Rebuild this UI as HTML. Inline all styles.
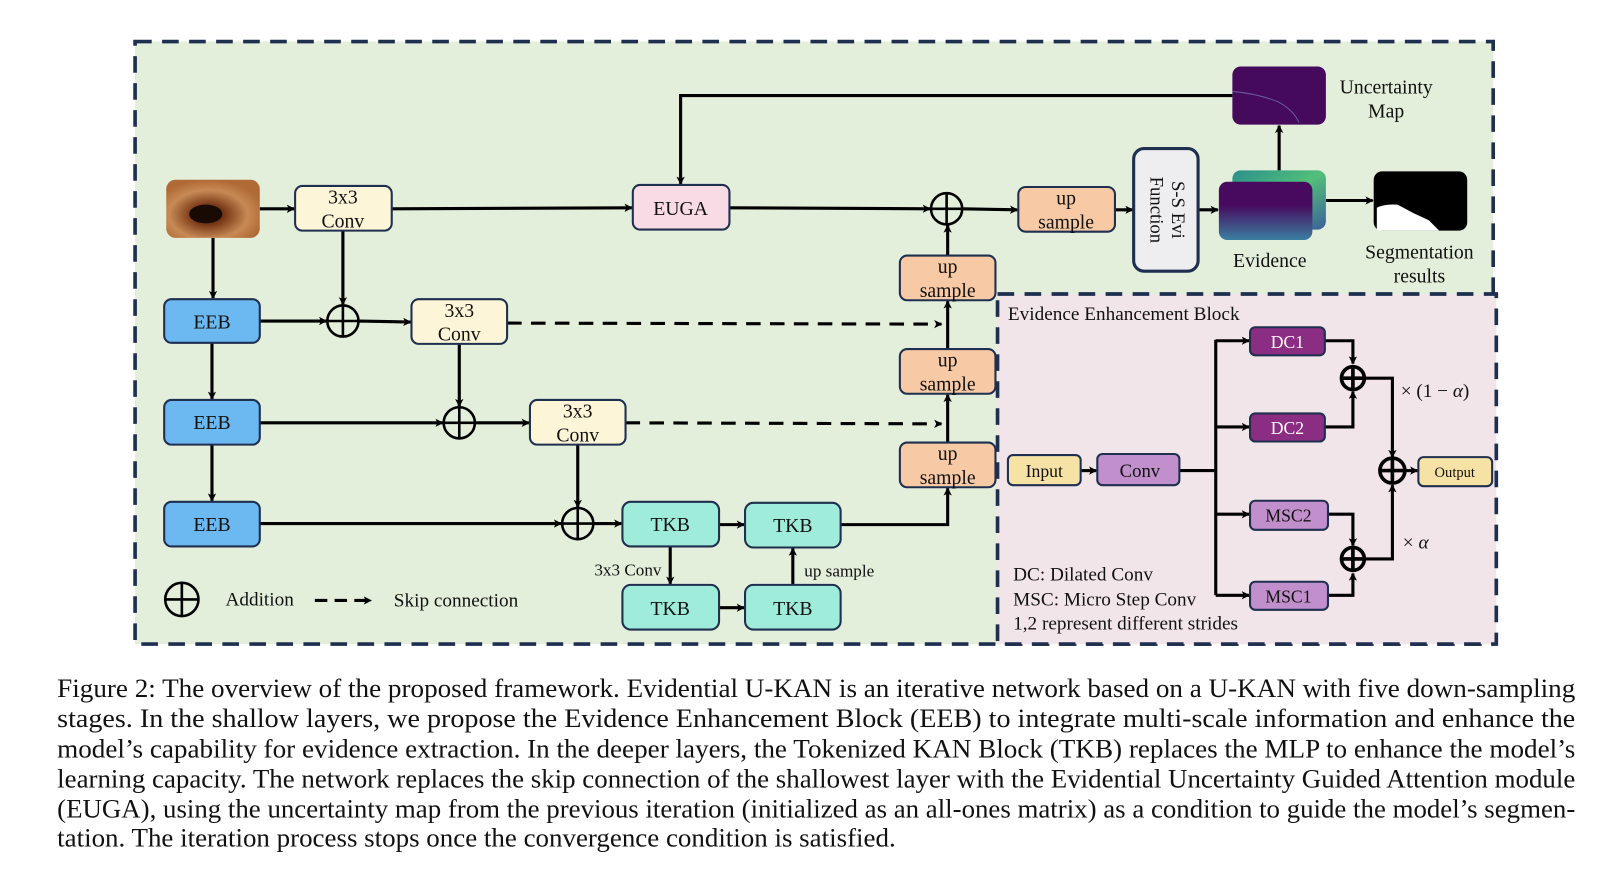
<!DOCTYPE html>
<html><head><meta charset="utf-8"><style>
html,body{margin:0;padding:0;background:#fff;width:1621px;height:882px;overflow:hidden}
svg{display:block}
text{font-family:"Liberation Serif",serif;fill:#111}
</style></head><body>
<svg width="1621" height="882" viewBox="0 0 1560 849" preserveAspectRatio="none" xmlns="http://www.w3.org/2000/svg">
<defs>
<marker id="a" markerWidth="8" markerHeight="8" refX="7" refY="4" orient="auto" markerUnits="userSpaceOnUse" viewBox="0 0 8 8"><path d="M0,0 L8,4 L0,8 L2,4 Z" fill="#000"/></marker>
<linearGradient id="ev" x1="0" y1="0" x2="1" y2="1"><stop offset="0" stop-color="#2a8f8a"/><stop offset="0.5" stop-color="#52c07a"/><stop offset="1" stop-color="#3a5f9a"/></linearGradient>
<linearGradient id="ev2" x1="0" y1="0" x2="0" y2="1"><stop offset="0.4" stop-color="#470a5e"/><stop offset="1" stop-color="#3b7fa0"/></linearGradient>
<radialGradient id="img" cx="0.45" cy="0.6" r="0.6"><stop offset="0" stop-color="#2a1208"/><stop offset="0.3" stop-color="#7a3a18"/><stop offset="0.7" stop-color="#c88a55"/><stop offset="1" stop-color="#b06a35"/></radialGradient>
</defs>
<rect x="130" y="40" width="1307" height="580" fill="#e3eedb" stroke="#1f2f4f" stroke-width="3.5" stroke-dasharray="16,10"/>
<rect x="960" y="283" width="480" height="337" fill="#f2e5ea" stroke="#1f2f4f" stroke-width="3.5" stroke-dasharray="16,10"/>

<g stroke="#000" stroke-width="3" fill="none">
<line x1="250" y1="201" x2="283" y2="201" marker-end="url(#a)"/>
<line x1="377" y1="201" x2="608" y2="200" marker-end="url(#a)"/>
<line x1="702" y1="200" x2="895" y2="201" marker-end="url(#a)"/>
<line x1="926" y1="201" x2="979" y2="202" marker-end="url(#a)"/>
<line x1="1073" y1="202" x2="1090" y2="202" marker-end="url(#a)"/>
<line x1="1153" y1="202" x2="1172" y2="202" marker-end="url(#a)"/>
<line x1="1276" y1="193" x2="1321" y2="193" marker-end="url(#a)"/>
<line x1="1231" y1="164" x2="1231" y2="121" marker-end="url(#a)"/>
<polyline points="1186,92 655,92 655,177" marker-end="url(#a)"/>
<line x1="205" y1="229" x2="205" y2="287" marker-end="url(#a)"/>
<line x1="204" y1="330" x2="204" y2="384" marker-end="url(#a)"/>
<line x1="204" y1="428" x2="204" y2="482" marker-end="url(#a)"/>
<line x1="330" y1="222" x2="330" y2="293" marker-end="url(#a)"/>
<line x1="250" y1="309" x2="314" y2="309" marker-end="url(#a)"/>
<line x1="345" y1="309" x2="395" y2="310" marker-end="url(#a)"/>
<line x1="442" y1="331" x2="442" y2="391" marker-end="url(#a)"/>
<line x1="250" y1="407" x2="426" y2="407" marker-end="url(#a)"/>
<line x1="457" y1="407" x2="509" y2="407" marker-end="url(#a)"/>
<line x1="556" y1="428" x2="556" y2="488" marker-end="url(#a)"/>
<line x1="250" y1="504" x2="540" y2="504" marker-end="url(#a)"/>
<line x1="571" y1="504" x2="598" y2="504" marker-end="url(#a)"/>
<line x1="692" y1="505" x2="716" y2="505" marker-end="url(#a)"/>
<line x1="645" y1="526" x2="645" y2="562" marker-end="url(#a)"/>
<line x1="692" y1="585" x2="716" y2="585" marker-end="url(#a)"/>
<line x1="763" y1="563" x2="763" y2="528" marker-end="url(#a)"/>
<polyline points="809,505 912,505 912,470" marker-end="url(#a)"/>
<line x1="912" y1="426" x2="912" y2="380" marker-end="url(#a)"/>
<line x1="912" y1="336" x2="912" y2="290" marker-end="url(#a)"/>
<line x1="912" y1="246" x2="912" y2="217" marker-end="url(#a)"/>
<line x1="488" y1="311" x2="906" y2="312" stroke-dasharray="14,9" marker-end="url(#a)"/>
<line x1="602" y1="407" x2="906" y2="408" stroke-dasharray="14,9" marker-end="url(#a)"/>
<line x1="303" y1="578" x2="357" y2="578" stroke-dasharray="12,7" marker-end="url(#a)"/>
<line x1="1040" y1="453" x2="1055" y2="453" marker-end="url(#a)"/>
<polyline points="1135,453 1170,453"/>
<line x1="1170" y1="327" x2="1170" y2="573"/>
<line x1="1170" y1="328" x2="1202" y2="328" marker-end="url(#a)"/>
<line x1="1170" y1="411" x2="1202" y2="411" marker-end="url(#a)"/>
<line x1="1170" y1="495" x2="1202" y2="495" marker-end="url(#a)"/>
<line x1="1170" y1="573" x2="1202" y2="573" marker-end="url(#a)"/>
<polyline points="1275,328 1302,328 1302,350" marker-end="url(#a)"/>
<polyline points="1275,411 1302,411 1302,377" marker-end="url(#a)"/>
<polyline points="1278,495 1302,495 1302,525" marker-end="url(#a)"/>
<polyline points="1278,573 1302,573 1302,552" marker-end="url(#a)"/>
<polyline points="1314,364 1340,364 1340,440" marker-end="url(#a)"/>
<polyline points="1314,538 1340,538 1340,467" marker-end="url(#a)"/>
<line x1="1352" y1="453" x2="1364" y2="453" marker-end="url(#a)"/>
</g>

<g stroke="#000" stroke-width="2.5" fill="none">
<g transform="translate(911,201)"><circle r="15"/><path d="M-15,0H15M0,-15V15"/></g>
<g transform="translate(330,309)"><circle r="15"/><path d="M-15,0H15M0,-15V15"/></g>
<g transform="translate(442,407)"><circle r="15"/><path d="M-15,0H15M0,-15V15"/></g>
<g transform="translate(556,504)"><circle r="15"/><path d="M-15,0H15M0,-15V15"/></g>
<g transform="translate(175,577)"><circle r="16"/><path d="M-16,0H16M0,-16V16"/></g>
<g stroke-width="3.5"><g transform="translate(1302,364)"><circle r="11"/><path d="M-11,0H11M0,-11V11"/></g>
<g transform="translate(1302,538)"><circle r="11"/><path d="M-11,0H11M0,-11V11"/></g>
<g transform="translate(1340,453)"><circle r="12"/><path d="M-12,0H12M0,-12V12"/></g></g>
</g>

<g stroke="#1f2f4f" stroke-width="2">
<rect x="160" y="173" width="90" height="56" rx="9" fill="url(#img)" stroke="none"/>
<rect x="284" y="179" width="93" height="43" rx="7" fill="#fdf5d8"/>
<rect x="609" y="178" width="93" height="43" rx="7" fill="#f8dbe4"/>
<rect x="980" y="180" width="93" height="43" rx="7" fill="#f7caa5"/>
<rect x="1091" y="143" width="62" height="118" rx="10" fill="#eeeef0" stroke-width="3"/>
<rect x="1186" y="64" width="90" height="56" rx="8" fill="#450a5c" stroke="none"/>
<rect x="1186" y="164" width="90" height="57" rx="8" fill="url(#ev)" stroke="none"/>
<rect x="1173" y="175" width="90" height="56" rx="8" fill="url(#ev2)" stroke="none"/>
<rect x="1322" y="165" width="90" height="57" rx="8" fill="#000" stroke="none"/>
<rect x="866" y="246" width="92" height="43" rx="7" fill="#f7caa5"/>
<rect x="866" y="336" width="92" height="43" rx="7" fill="#f7caa5"/>
<rect x="866" y="426" width="92" height="43" rx="7" fill="#f7caa5"/>
<rect x="158" y="288" width="92" height="42" rx="7" fill="#6cb8f0"/>
<rect x="158" y="385" width="92" height="43" rx="7" fill="#6cb8f0"/>
<rect x="158" y="483" width="92" height="43" rx="7" fill="#6cb8f0"/>
<rect x="396" y="288" width="92" height="43" rx="7" fill="#fdf5d8"/>
<rect x="510" y="385" width="92" height="43" rx="7" fill="#fdf5d8"/>
<rect x="599" y="483" width="93" height="43" rx="8" fill="#9eecd9"/>
<rect x="717" y="484" width="92" height="43" rx="8" fill="#9eecd9"/>
<rect x="599" y="563" width="93" height="43" rx="8" fill="#9eecd9"/>
<rect x="717" y="563" width="92" height="43" rx="8" fill="#9eecd9"/>
<rect x="970" y="438" width="70" height="29" rx="5" fill="#f7e2a6"/>
<rect x="1056" y="437" width="79" height="30" rx="5" fill="#c18fcb"/>
<rect x="1203" y="315" width="72" height="27" rx="5" fill="#8b2d82"/>
<rect x="1203" y="398" width="72" height="27" rx="5" fill="#8b2d82"/>
<rect x="1203" y="482" width="75" height="28" rx="5" fill="#c18fcb"/>
<rect x="1203" y="560" width="75" height="27" rx="5" fill="#c18fcb"/>
<rect x="1365" y="440" width="71" height="28" rx="5" fill="#f7e2a6"/>
</g>
<path d="M1186,88 Q1210,90 1230,98 Q1245,106 1250,118" stroke="#6a5a9a" stroke-width="1" fill="none"/>
<path d="M1325,222 L1325,200 Q1332,196 1345,197 L1360,205 L1375,212 L1385,222 Z" fill="#fff"/>
<ellipse cx="198" cy="206" rx="16" ry="9" fill="#1a0a04"/>

<g font-size="19" text-anchor="middle">
<text x="330" y="196">3x3</text><text x="330" y="219">Conv</text>
<text x="655" y="207">EUGA</text>
<text x="1026" y="197">up</text><text x="1026" y="220">sample</text>
<text x="912" y="263">up</text><text x="912" y="286">sample</text>
<text x="912" y="353">up</text><text x="912" y="376">sample</text>
<text x="912" y="443">up</text><text x="912" y="466">sample</text>
<text x="442" y="305">3x3</text><text x="442" y="328">Conv</text>
<text x="556" y="402">3x3</text><text x="556" y="425">Conv</text>
<text x="204" y="316">EEB</text>
<text x="204" y="413">EEB</text>
<text x="204" y="511">EEB</text>
<text x="645" y="511">TKB</text>
<text x="763" y="512">TKB</text>
<text x="645" y="592">TKB</text>
<text x="763" y="592">TKB</text>
<text x="1334" y="90">Uncertainty</text><text x="1334" y="113">Map</text>
<text x="1222" y="257">Evidence</text>
<text x="1366" y="249">Segmentation</text><text x="1366" y="272">results</text>
<text x="1005" y="459" font-size="17">Input</text>
<text x="1097" y="459" font-size="18">Conv</text>
<text x="1239" y="335" font-size="17" style="fill:#fff">DC1</text>
<text x="1239" y="418" font-size="17" style="fill:#fff">DC2</text>
<text x="1240" y="502" font-size="17">MSC2</text>
<text x="1240" y="580" font-size="17">MSC1</text>
<text x="1400" y="459" font-size="14">Output</text>
</g>
<text transform="translate(1122,202) rotate(90)" font-size="18" text-anchor="middle"><tspan x="0" y="-6">S-S Evi</tspan><tspan x="0" y="15">Function</tspan></text>
<g font-size="18.5">
<text x="217" y="583">Addition</text>
<text x="379" y="584">Skip connection</text>
<text x="572" y="554" font-size="16.5">3x3 Conv</text>
<text x="774" y="555" font-size="16.5">up sample</text>
<text x="970" y="308">Evidence Enhancement Block</text>
<text x="1348" y="382">× (1 − <tspan font-style="italic">α</tspan>)</text>
<text x="1350" y="528">× <tspan font-style="italic">α</tspan></text>
<text x="975" y="559">DC: Dilated Conv</text>
<text x="975" y="583">MSC: Micro Step Conv</text>
<text x="975" y="606">1,2 represent different strides</text>
</g>

<g font-size="25.5">
<text x="55" y="671" textLength="1461" lengthAdjust="spacingAndGlyphs">Figure 2: The overview of the proposed framework. Evidential U-KAN is an iterative network based on a U-KAN with five down-sampling</text>
<text x="55" y="700" textLength="1461" lengthAdjust="spacingAndGlyphs">stages.  In the shallow layers, we propose the Evidence Enhancement Block (EEB) to integrate multi-scale information and enhance the</text>
<text x="55" y="729" textLength="1461" lengthAdjust="spacingAndGlyphs">model’s capability for evidence extraction. In the deeper layers, the Tokenized KAN Block (TKB) replaces the MLP to enhance the model’s</text>
<text x="55" y="758" textLength="1461" lengthAdjust="spacingAndGlyphs">learning capacity. The network replaces the skip connection of the shallowest layer with the Evidential Uncertainty Guided Attention module</text>
<text x="55" y="787" textLength="1461" lengthAdjust="spacingAndGlyphs">(EUGA), using the uncertainty map from the previous iteration (initialized as an all-ones matrix) as a condition to guide the model’s segmen-</text>
<text x="55" y="815" textLength="807" lengthAdjust="spacingAndGlyphs">tation. The iteration process stops once the convergence condition is satisfied.</text>
</g>
</svg>
</body></html>
